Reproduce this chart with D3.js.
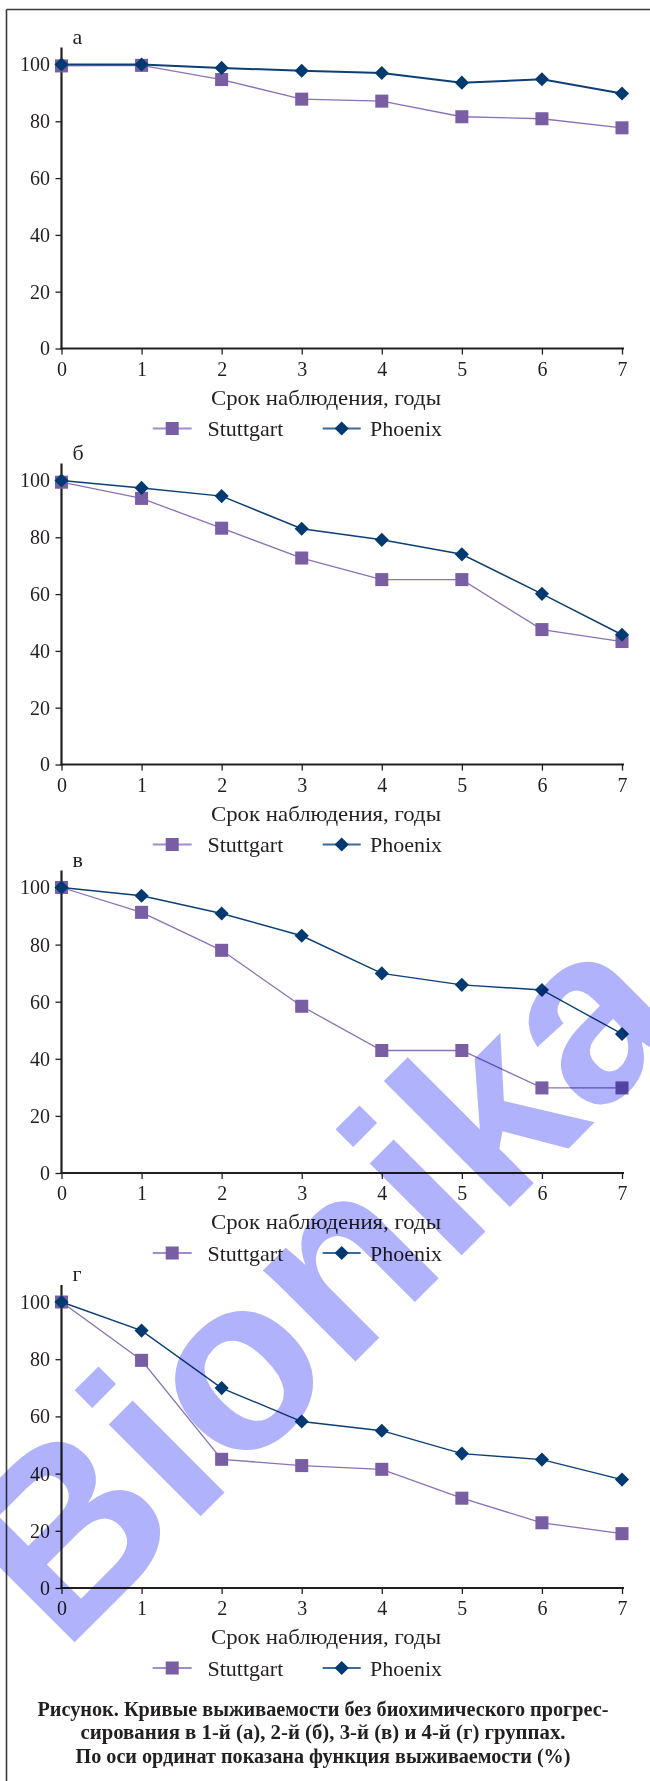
<!DOCTYPE html>
<html>
<head>
<meta charset="utf-8">
<script src="https://cdn.jsdelivr.net/npm/d3@7"></script>
<style>
  body { margin: 0; background: #fff; }
  svg { display: block; }
</style>
</head>
<body>
<div id="chart"></div>
<script>
// годы наблюдения
var years = [0, 1, 2, 3, 4, 5, 6, 7];
var yTicks = [0, 20, 40, 60, 80, 100];
var panelLabels = ['а', 'б', 'в', 'г'];
var seriesNames = ['Stuttgart', 'Phoenix'];

// функция выживаемости, %
var stuttgartA = [99.5, 99.7, 94.7, 87.8, 87.1, 81.6, 80.9, 77.7];
var phoenixA   = [100, 100, 98.8, 97.8, 97.0, 93.6, 94.8, 89.8];
var stuttgartB = [99.4, 93.7, 83.2, 72.7, 65.1, 65.1, 47.5, 43.3];
var phoenixB   = [100, 97.4, 94.5, 83.0, 79.1, 74.0, 60.1, 45.7];
var stuttgartC = [100, 91.3, 78.0, 58.4, 42.9, 42.9, 29.8, 29.8];
var phoenixC   = [100, 97.1, 90.9, 83.1, 69.9, 65.9, 64.1, 48.7];
var stuttgartD = [100, 79.6, 45.0, 42.8, 41.5, 31.4, 22.8, 19.0];
var phoenixD   = [100, 90.0, 69.9, 58.2, 55.0, 47.0, 44.9, 37.9];

var captionLines = [
  'Рисунок. Кривые выживаемости без биохимического прогрес-',
  'сирования в 1-й (а), 2-й (б), 3-й (в) и 4-й (г) группах.',
  'По оси ординат показана функция выживаемости (%)'
];
var xTitle = 'Срок наблюдения, годы';
var watermark = 'Bionika';

var panels = [
  { label: panelLabels[0], s: stuttgartA, p: phoenixA },
  { label: panelLabels[1], s: stuttgartB, p: phoenixB },
  { label: panelLabels[2], s: stuttgartC, p: phoenixC },
  { label: panelLabels[3], s: stuttgartD, p: phoenixD }
];

// layout
var plotTop = [64.5, 480.5, 887.5, 1302];
var plotBottom = [348.5, 764.5, 1173, 1588];
var phoenixWidth = [2, 1.5, 1.4, 1.4];
var ink = '#231f20';
var purple = '#7a5ea3', purpleLine = '#8a72b6', purpleLegend = '#a08dcb';
var navy = '#003a70', navyLine = '#0d3f76', navyLegend = '#3c6a9c';
var serif = '"Liberation Serif", "Times New Roman", serif';

var svg = d3.select('#chart').append('svg')
    .attr('width', 650)
    .attr('height', 1781)
    .style('font-family', serif);

svg.append('rect').attr('width', 650).attr('height', 1781).attr('fill', '#fff');

// рамка
svg.append('line').attr('x1', 6.5).attr('x2', 650).attr('y1', 9.5).attr('y2', 9.5)
    .attr('stroke', '#3a3a3a').attr('stroke-width', 1.6);
svg.append('line').attr('x1', 6.5).attr('x2', 6.5).attr('y1', 9.5).attr('y2', 1781)
    .attr('stroke', '#3a3a3a').attr('stroke-width', 1.6);

var xScale = d3.scaleLinear().domain([0, 7]).range([61.5, 622]);

var square = d3.symbol().type(d3.symbolSquare).size(170);
var diamond = d3.symbol().type(d3.symbolSquare).size(100);

panels.forEach(function (panel, i) {
    var yScale = d3.scaleLinear().domain([0, 100]).range([plotBottom[i], plotTop[i]]);
    var g = svg.append('g');

    var line = d3.line()
        .x(function (d, j) { return xScale(years[j]); })
        .y(function (d) { return yScale(d); });

    // оси
    var yAxis = g.append('g')
        .attr('transform', 'translate(' + xScale(0) + ',0)')
        .call(d3.axisLeft(yScale).tickValues(yTicks).tickSize(6).tickSizeOuter(0).tickPadding(5.5));
    var xAxis = g.append('g')
        .attr('transform', 'translate(0,' + yScale(0) + ')')
        .call(d3.axisBottom(xScale).tickValues(years).tickSize(6).tickSizeOuter(0).tickPadding(7).tickFormat(d3.format('d')));
    [yAxis, xAxis].forEach(function (ax) {
        ax.select('.domain').remove();
        ax.selectAll('line').attr('stroke', ink).attr('stroke-width', 1.3);
        ax.selectAll('text').attr('fill', ink).style('font-size', '20px').style('font-family', serif);
    });
    g.append('line')
        .attr('x1', xScale(0)).attr('x2', xScale(0))
        .attr('y1', yScale(100) - 17).attr('y2', yScale(0) + 1)
        .attr('stroke', ink).attr('stroke-width', 2.2);
    g.append('line')
        .attr('x1', xScale(0) - 1).attr('x2', xScale(7) + 2)
        .attr('y1', yScale(0)).attr('y2', yScale(0))
        .attr('stroke', ink).attr('stroke-width', 2.2);

    g.append('text')
        .attr('x', 72.5).attr('y', yScale(100) - 21)
        .attr('fill', ink).style('font-size', '22px')
        .text(panel.label);

    // Stuttgart
    g.append('path').attr('d', line(panel.s))
        .attr('fill', 'none').attr('stroke', purpleLine).attr('stroke-width', 1.3);
    g.selectAll('.sq').data(panel.s).enter().append('path')
        .attr('class', 'sq')
        .attr('d', square)
        .attr('transform', function (d, j) { return 'translate(' + xScale(years[j]) + ',' + yScale(d) + ')'; })
        .attr('fill', purple);

    // Phoenix
    g.append('path').attr('d', line(panel.p))
        .attr('fill', 'none').attr('stroke', navyLine).attr('stroke-width', phoenixWidth[i]);
    g.selectAll('.dm').data(panel.p).enter().append('path')
        .attr('class', 'dm')
        .attr('d', diamond)
        .attr('transform', function (d, j) { return 'translate(' + xScale(years[j]) + ',' + yScale(d) + ') rotate(45)'; })
        .attr('fill', navy);

    g.append('text')
        .attr('x', 326).attr('y', yScale(0) + 56)
        .attr('text-anchor', 'middle')
        .attr('textLength', 230)
        .attr('lengthAdjust', 'spacingAndGlyphs')
        .attr('fill', ink).style('font-size', '22px')
        .text(xTitle);

    // легенда
    var ly = yScale(0) + 80;
    var leg = [
        { name: seriesNames[0], x1: 152.7, x2: 191.7, tx: 207.5, c: purpleLegend, m: purple, sym: square, rot: 0 },
        { name: seriesNames[1], x1: 322.7, x2: 360.7, tx: 370, c: navyLegend, m: navy, sym: diamond, rot: 45 }
    ];
    leg.forEach(function (l) {
        g.append('line').attr('x1', l.x1).attr('x2', l.x2).attr('y1', ly).attr('y2', ly)
            .attr('stroke', l.c).attr('stroke-width', 1.8);
        g.append('path').attr('d', l.sym)
            .attr('transform', 'translate(' + (l.x1 + l.x2) / 2 + ',' + ly + ') rotate(' + l.rot + ')')
            .attr('fill', l.m);
        g.append('text').attr('x', l.tx).attr('y', ly + 7.5)
            .attr('fill', ink).style('font-size', '22px')
            .text(l.name);
    });
});

// подпись
var capWidths = [571, 485, 495];
svg.append('g').selectAll('text')
    .data(captionLines)
    .enter()
    .append('text')
    .attr('x', 323)
    .attr('y', function (d, i) { return 1716 + 23.3 * i; })
    .attr('text-anchor', 'middle')
    .attr('textLength', function (d, i) { return capWidths[i]; })
    .attr('lengthAdjust', 'spacingAndGlyphs')
    .attr('fill', ink)
    .style('font-size', '20px')
    .style('font-weight', 'bold')
    .text(function (d) { return d; });

// водяной знак
svg.append('text')
    .attr('transform', 'translate(63,1654) rotate(-45)')
    .attr('fill', '#b0b3fb')
    .style('font-family', '"Liberation Sans", Arial, sans-serif')
    .style('font-weight', 'bold')
    .style('font-size', '246px')
    .style('mix-blend-mode', 'multiply')
    .text(watermark);
</script>
</body>
</html>
